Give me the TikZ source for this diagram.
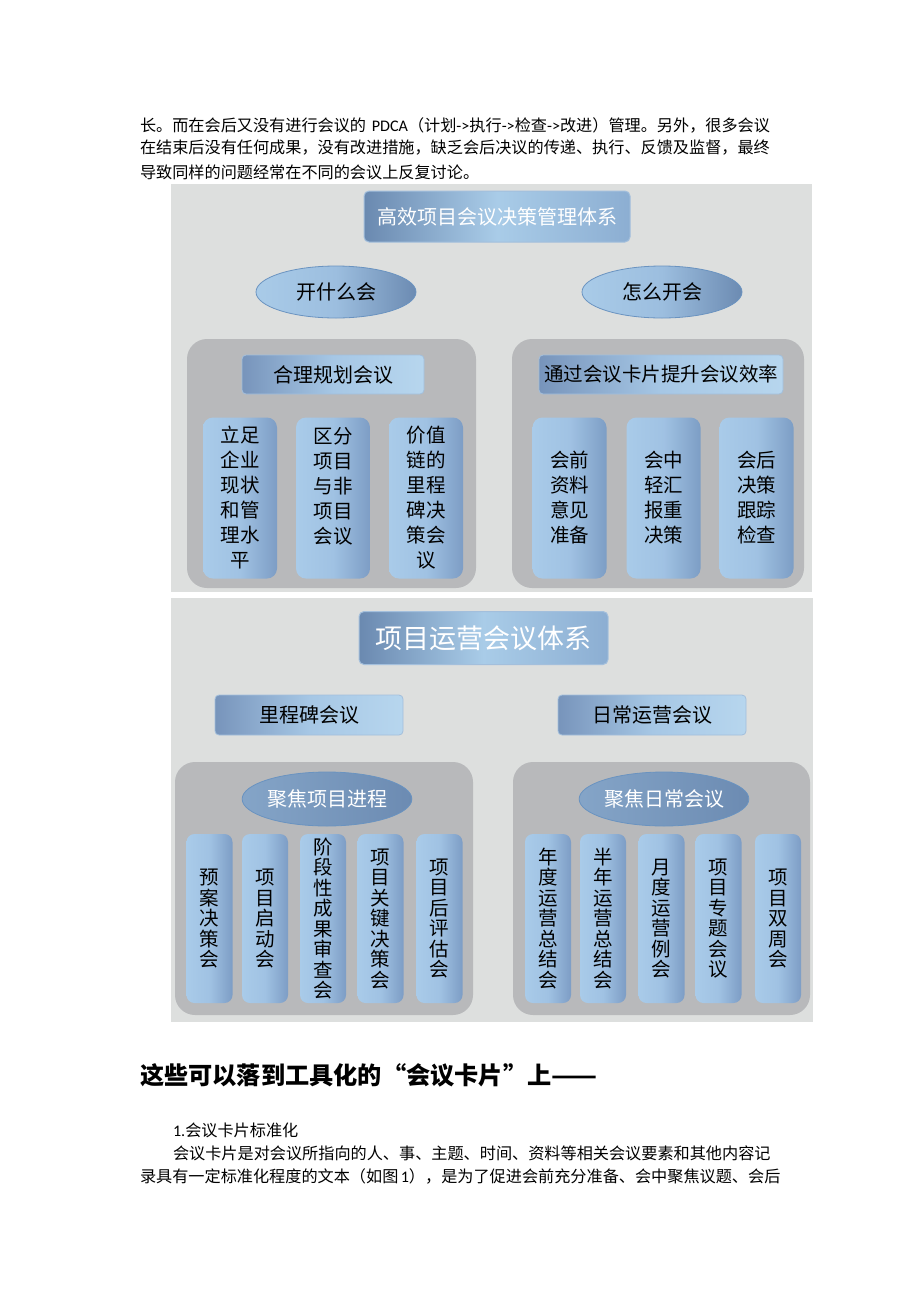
\documentclass[tikz,border=0pt]{standalone}
\usepackage{graphicx}
\usepackage{fontspec}
\setmainfont{Noto Sans CJK SC}
\newfontfamily\cjk{Noto Sans CJK SC}
\newfontfamily\lat{Carlito}
\usetikzlibrary{shapes.geometric}
\XeTeXlinebreaklocale "zh"
\XeTeXlinebreakskip=0pt plus 1pt
\definecolor{pagebg}{HTML}{DDDFDE}
\definecolor{panelgray}{HTML}{B8B9BB}
\definecolor{tl}{HTML}{6A89B0}
\definecolor{tm}{HTML}{A9CCE8}
\definecolor{tr}{HTML}{8CAED2}
\definecolor{tbord}{HTML}{A3BFDC}
\definecolor{sl}{HTML}{7794BB}
\definecolor{sm}{HTML}{A6C7E5}
\definecolor{sr}{HTML}{B7D6EE}
\definecolor{el}{HTML}{A9CBE8}
\definecolor{em}{HTML}{9CBEDF}
\definecolor{er}{HTML}{6C8BB2}
\definecolor{eb}{HTML}{6A93C0}
\definecolor{pl}{HTML}{A9CBE9}
\definecolor{pm}{HTML}{A0C2E3}
\definecolor{pr}{HTML}{7D9DC5}
\begin{document}
\begin{tikzpicture}[x=1pt,y=-1pt,
  every node/.style={inner sep=0pt, outer sep=0pt},
  bodytext/.style={anchor=west, font=\fontsize{16.15}{16.15}\selectfont},
  figbg/.style={fill=pagebg, anchor=north west},
  graypanel/.style={fill=panelgray, rounded corners=20pt, anchor=north west},
  titlebox/.style={draw=tbord, line width=1pt, rounded corners=5pt, left color=tl, right color=tr, middle color=tm, text=white},
  subbox/.style={draw=tbord, line width=0.8pt, rounded corners=4pt, left color=sl, right color=sr, middle color=sm, text=black, font=\fontsize{20}{20}\selectfont, minimum height=39pt},
  ovalnode/.style={ellipse, draw=eb, line width=0.8pt, left color=el, right color=er, middle color=em, font=\fontsize{20}{20}\selectfont},
  pillar/.style={rounded corners=10pt, left color=pl, right color=pr, middle color=pm, align=center, text=black},
  pillarA/.style={pillar, minimum width=74pt, minimum height=161pt, font=\fontsize{19.5}{25}\selectfont},
  pillarB/.style={pillar, minimum width=46pt, minimum height=169pt, rounded corners=8pt, font=\fontsize{19.5}{20.5}\selectfont},
]
\useasboundingbox[fill=white] (0,0) rectangle (920,1302);

% ---- body text above ----
\node[bodytext] (l1) at (140,125) {\makebox[630pt][s]{长。而在会后又没有进行会议的 {\lat PDCA}（计划{\lat ->}执行{\lat ->}检查{\lat ->}改进）管理。另外，很多会议}};
\node[bodytext] (l2) at (140,148) {\makebox[630pt][s]{在结束后没有任何成果，没有改进措施，缺乏会后决议的传递、执行、反馈及监督，最终}};
\node[bodytext] (l3) at (140,172) {导致同样的问题经常在不同的会议上反复讨论。};

% ---- figure 1 ----
\node[figbg, minimum width=641pt, minimum height=408pt] (fig1) at (171,184) {};
\node[titlebox, minimum width=266pt, minimum height=51pt, font=\fontsize{20}{20}\selectfont] (t1) at (497,216.5) {高效项目会议决策管理体系};
\node[ovalnode, minimum width=160pt, minimum height=52pt, text=black] (e1) at (336,292) {开什么会};
\node[ovalnode, minimum width=160pt, minimum height=52pt, text=black] (e2) at (662,292) {怎么开会};
\node[graypanel, minimum width=289pt, minimum height=249pt] (g1) at (187,339) {};
\node[graypanel, minimum width=292pt, minimum height=249pt] (g2) at (512,339) {};
\node[subbox, minimum width=182pt] (s1) at (333,374.5) {合理规划会议};
\node[subbox, minimum width=244pt, font=\fontsize{19.5}{19.5}\selectfont] (s2) at (661,374.5) {通过会议卡片提升会议效率};
\node[pillarA] (p1) at (240,498) {立足\\企业\\现状\\和管\\理水\\平};
\node[pillarA] (p2) at (333,498) {区分\\项目\\与非\\项目\\会议\\ \mbox{}};
\node[pillarA] (p3) at (426,498) {价值\\链的\\里程\\碑决\\策会\\议};
\node[pillarA] (p4) at (569.5,498) {会前\\资料\\意见\\准备};
\node[pillarA] (p5) at (663.5,498) {会中\\轻汇\\报重\\决策};
\node[pillarA] (p6) at (756.5,498) {会后\\决策\\跟踪\\检查};

% ---- figure 2 ----
\node[figbg, minimum width=642pt, minimum height=424pt] (fig2) at (171,598) {};
\node[titlebox, minimum width=249pt, minimum height=53pt, font=\fontsize{27}{27}\selectfont] (t2) at (483.5,638) {项目运营会议体系};
\node[subbox, minimum width=188pt, minimum height=40pt] (s3) at (309,715) {里程碑会议};
\node[subbox, minimum width=188pt, minimum height=40pt] (s4) at (652,715) {日常运营会议};
\node[graypanel, minimum width=298pt, minimum height=253pt] (g3) at (175,762) {};
\node[graypanel, minimum width=297pt, minimum height=253pt] (g4) at (513,762) {};
\node[ovalnode, minimum width=166pt, minimum height=54pt, text=white, left color=er!60!el] (e3) at (327,799) {聚焦项目进程};
\node[ovalnode, minimum width=164pt, minimum height=54pt, text=white, left color=er!60!el] (e4) at (664,799) {聚焦日常会议};
\node[pillarB] (q1) at (209.5,918.5) {预\\案\\决\\策\\会};
\node[pillarB] (q2) at (265,918.5) {项\\目\\启\\动\\会};
\node[pillarB] (q3) at (323,918.5) {阶\\段\\性\\成\\果\\审\\查\\会};
\node[pillarB] (q4) at (380.5,918.5) {项\\目\\关\\键\\决\\策\\会};
\node[pillarB] (q5) at (439.5,918.5) {项\\目\\后\\评\\估\\会};
\node[pillarB] (q6) at (548,918.5) {年\\度\\运\\营\\总\\结\\会};
\node[pillarB] (q7) at (603,918.5) {半\\年\\运\\营\\总\\结\\会};
\node[pillarB] (q8) at (661.5,918.5) {月\\度\\运\\营\\例\\会};
\node[pillarB] (q9) at (718.5,918.5) {项\\目\\专\\题\\会\\议};
\node[pillarB] (q10) at (778,918.5) {项\\目\\双\\周\\会};

% ---- text below ----
\node[anchor=west, font=\bfseries\fontsize{24.2}{24.2}\selectfont] (h1) at (140,1075) {\makebox[470pt][s]{这些可以落到工具化的“会议卡片”上\resizebox{46pt}{\height}{——}}};
\node[bodytext] (l4) at (173,1130) {{\lat 1.}会议卡片标准化};
\node[bodytext] (l5) at (173,1153) {\makebox[597pt][s]{会议卡片是对会议所指向的人、事、主题、时间、资料等相关会议要素和其他内容记}};
\node[bodytext] (l6) at (140,1176) {\makebox[630pt][s]{录具有一定标准化程度的文本（如图 {\lat 1}），是为了促进会前充分准备、会中聚焦议题、会后}};
\end{tikzpicture}
\end{document}
